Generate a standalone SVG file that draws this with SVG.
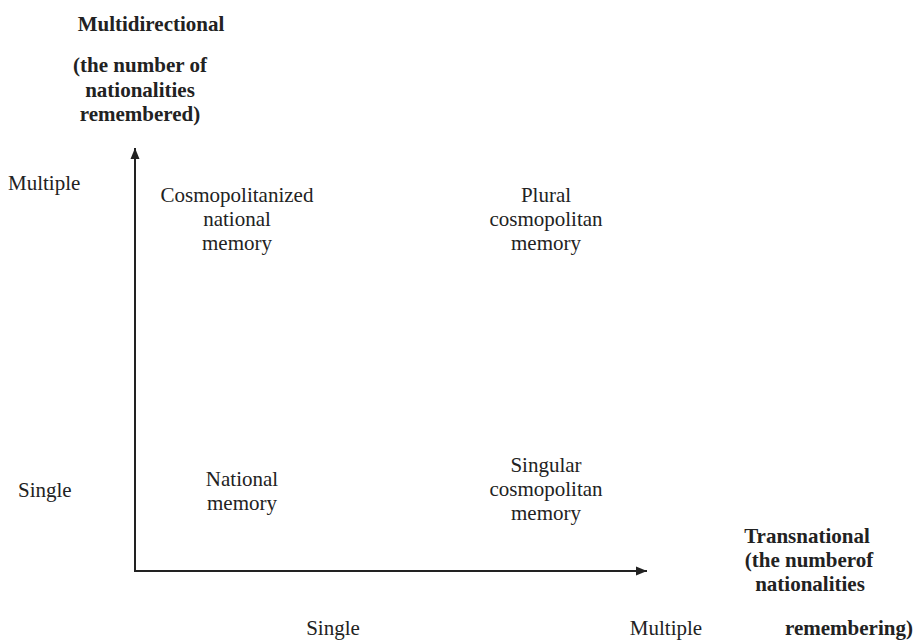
<svg xmlns="http://www.w3.org/2000/svg" width="918" height="640" viewBox="0 0 918 640">
<style>
text{font-family:"Liberation Serif","Times New Roman",serif;font-size:21px;fill:#222;}
.b{font-weight:bold;}
.c{text-anchor:middle;}
.axis{stroke:#222;stroke-width:2;fill:none;}
</style>
<defs>
<marker id="ah" markerWidth="12" markerHeight="10" refX="11" refY="5" orient="auto" markerUnits="userSpaceOnUse">
<path d="M0,0.5 L11,5 L0,9.5 Z" fill="#222"/>
</marker>
</defs>
<g id="connectors">
<path class="axis" d="M135,571 L135,148" marker-end="url(#ah)"/>
<path class="axis" d="M134,571 L647,571" marker-end="url(#ah)"/>
</g>
<g id="y-axis-title">
<text class="b c" x="151" y="31">Multidirectional</text>
<text class="b c" x="140" y="72">(the number of</text>
<text class="b c" x="140" y="97">nationalities</text>
<text class="b c" x="140" y="121">remembered)</text>
</g>
<g id="y-multiple"><text x="8" y="190">Multiple</text></g>
<g id="y-single"><text x="18" y="497">Single</text></g>
<g id="cosmopolitanized">
<text class="c" x="237" y="202">Cosmopolitanized</text>
<text class="c" x="237" y="226">national</text>
<text class="c" x="237" y="250">memory</text>
</g>
<g id="plural">
<text class="c" x="546" y="202">Plural</text>
<text class="c" x="546" y="226">cosmopolitan</text>
<text class="c" x="546" y="250">memory</text>
</g>
<g id="national">
<text class="c" x="242" y="486">National</text>
<text class="c" x="242" y="510">memory</text>
</g>
<g id="singular">
<text class="c" x="546" y="472">Singular</text>
<text class="c" x="546" y="496">cosmopolitan</text>
<text class="c" x="546" y="520">memory</text>
</g>
<g id="x-axis-title">
<text class="b c" x="807" y="543">Transnational</text>
<text class="b c" x="809" y="567">(the numberof</text>
<text class="b c" x="810" y="591">nationalities</text>
<text class="b" x="785" y="635">remembering)</text>
</g>
<g id="x-single"><text class="c" x="333" y="635">Single</text></g>
<g id="x-multiple"><text class="c" x="666" y="635">Multiple</text></g>
</svg>
